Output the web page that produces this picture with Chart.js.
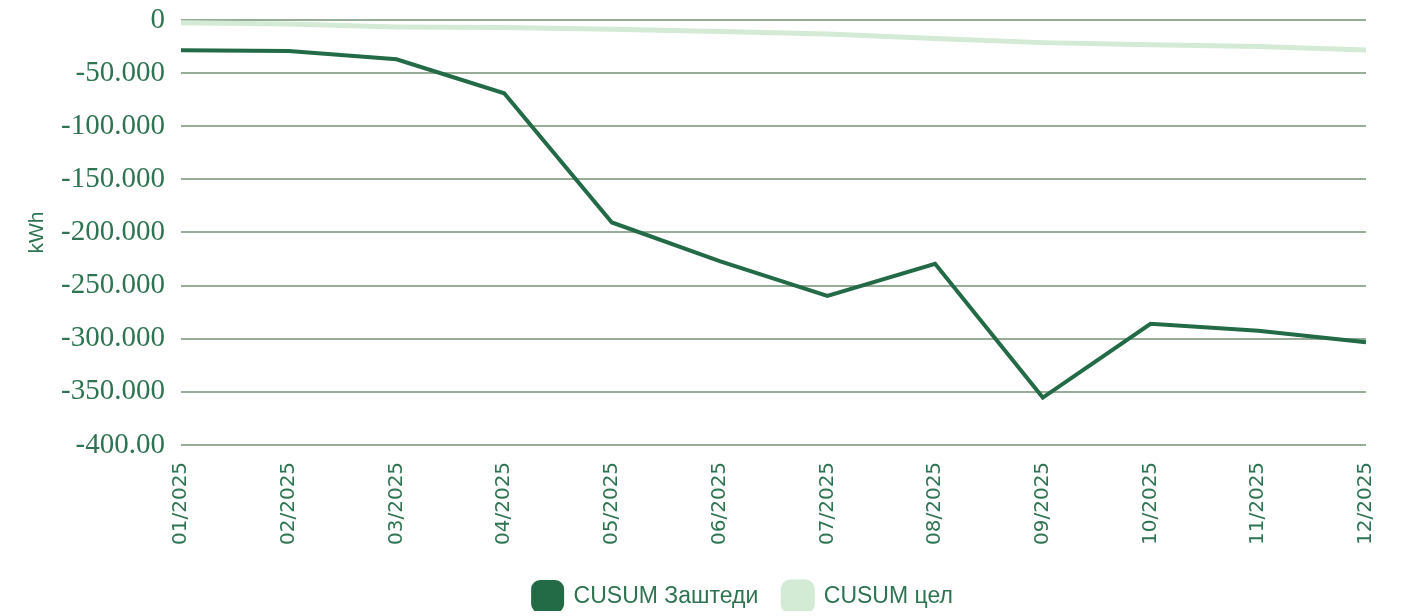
<!DOCTYPE html>
<html>
<head>
<meta charset="utf-8">
<script src="https://cdn.jsdelivr.net/npm/chart.js@4.4.1/dist/chart.umd.min.js"></script>
<style>
  html, body { margin: 0; padding: 0; background: #ffffff; }
  #wrap { width: 1405px; height: 616px; position: relative; }
</style>
</head>
<body>
<div id="wrap"><canvas id="cusumChart" width="1405" height="616"></canvas></div>
<script>
// Meses
const meses = ['01/2025', '02/2025', '03/2025', '04/2025', '05/2025', '06/2025',
               '07/2025', '08/2025', '09/2025', '10/2025', '11/2025', '12/2025'];

// CUSUM ahorros (kWh)
const cusumZashtedi = [-28500, -29100, -37000, -69000, -190600, -227000,
                       -259800, -229500, -355400, -286000, -292500, -303400];

// CUSUM objetivo (kWh)
const cusumTsel = [-2500, -3800, -6500, -7000, -8800, -10800,
                   -13200, -17300, -21300, -23200, -25000, -28200];

// Etiquetas del eje Y (tal como aparecen)
const yTicks = [0, -50000, -100000, -150000, -200000, -250000, -300000, -350000, -400000];
const yTickLabels = ['0', '-50.000', '-100.000', '-150.000', '-200.000',
                     '-250.000', '-300.000', '-350.000', '-400.00'];

const verde = '#236a47';
const verdeClaro = '#d3ead5';
const verdeTexto = '#2f7452';
const rejilla = '#98ad98';

// Desplazar la leyenda (no está centrada en el lienzo)
const moverLeyenda = {
    id: 'moverLeyenda',
    afterLayout(chart) {
        const l = chart.legend;
        const dx = 56, dy = -5;
        l.left += dx; l.right += dx;
        l.top += dy; l.bottom += dy;
    }
};

const ctx = document.getElementById('cusumChart').getContext('2d');

const cusumChart = new Chart(ctx, {
    type: 'line',
    data: {
        labels: meses,
        datasets: [{
            label: 'CUSUM Заштеди',
            data: cusumZashtedi,
            borderColor: verde,
            backgroundColor: verde,
            borderWidth: 4,
            pointRadius: 0,
            tension: 0
        }, {
            label: 'CUSUM цел',
            data: cusumTsel,
            borderColor: verdeClaro,
            backgroundColor: verdeClaro,
            borderWidth: 5,
            pointRadius: 0,
            tension: 0
        }]
    },
    plugins: [moverLeyenda],
    options: {
        responsive: false,
        animation: false,
        layout: {
            padding: { left: 8, right: 39, top: 20, bottom: 0 }
        },
        plugins: {
            legend: {
                position: 'bottom',
                maxHeight: 54,
                labels: {
                    boxWidth: 29,
                    boxHeight: 29,
                    useBorderRadius: true,
                    borderRadius: 7,
                    color: verdeTexto,
                    padding: 25,
                    font: { family: 'Liberation Sans, Arial, sans-serif', size: 23 }
                }
            },
            tooltip: { enabled: false }
        },
        scales: {
            x: {
                offset: false,
                afterFit: (axis) => {
                    axis.paddingLeft = 0;
                    axis.paddingRight = 0;
                },
                grid: { display: false, drawTicks: false },
                border: { display: false },
                ticks: {
                    color: verdeTexto,
                    maxRotation: 90,
                    minRotation: 90,
                    padding: 17,
                    font: { family: 'DejaVu Sans, sans-serif', size: 20 }
                }
            },
            y: {
                min: -400000,
                max: 0,
                afterBuildTicks: (axis) => {
                    axis.ticks = yTicks.map(v => ({ value: v }));
                },
                afterFit: (axis) => {
                    axis.paddingTop = 0;
                    axis.paddingBottom = 0;
                    axis.width = 173;
                },
                grid: { color: rejilla, lineWidth: 2, drawTicks: false },
                border: { display: false },
                title: {
                    display: true,
                    text: 'kWh',
                    color: verdeTexto,
                    padding: { top: 17, bottom: 10 },
                    font: { family: 'Liberation Sans, Arial, sans-serif', size: 21 }
                },
                ticks: {
                    color: verdeTexto,
                    padding: 16,
                    font: { family: 'Liberation Serif, serif', size: 29 },
                    callback: (value) => {
                        const i = yTicks.indexOf(value);
                        return i >= 0 ? yTickLabels[i] : '';
                    }
                }
            }
        }
    }
});
</script>
</body>
</html>
